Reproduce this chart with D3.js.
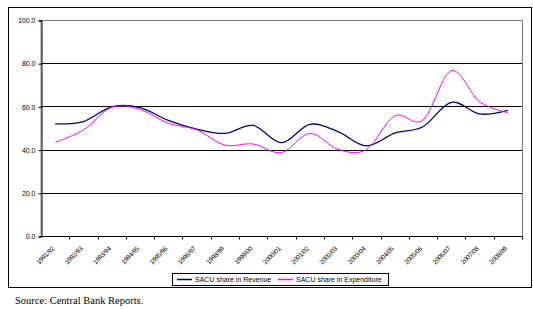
<!DOCTYPE html>
<html>
<head>
  <meta charset="utf-8">
  <title>SACU share</title>
  <style>
    body { margin: 0; background: #fff; }
    text { font-family: "Liberation Sans", Arial, sans-serif; }
  </style>
</head>
<body>
  <div id="viz"></div>
  <script src="https://d3js.org/d3.v7.min.js"></script>
  <script>
    // category labels as printed on the axis
    let years = ['1991/92', '1992/93', '1993/94', '1994/95', '1995/96', '1996/97',
      '1998/99', '1999/00', '2000/01', '2001/02', '2002/03', '2003/04',
      '2004/05', '2005/06', '2006/07', '2007/08', '2008/09'];

    let revenue = [51.9, 53.0, 59.8, 59.4, 53.5, 49.5, 47.5, 51.2, 43.2, 51.7,
      48.3, 41.7, 47.6, 50.6, 61.9, 56.5, 58.2];

    let expenditure = [43.4, 49.1, 59.6, 58.6, 52.2, 49.2, 42.1, 42.6, 38.6, 47.5,
      40.1, 40.0, 55.6, 53.7, 76.5, 62.2, 57.1];

    let yTicks = [0, 20, 40, 60, 80, 100];

    let seriesNames = ['SACU share in Revenue', 'SACU share in Expenditure'];
    let seriesColors = ['#000080', '#ff00ff'];

    let margin = { top: 20, left: 41 },
      width = 481,
      height = 216;

    let root = d3.select('#viz')
      .append('svg')
      .attr('width', 533)
      .attr('height', 309);

    // outer chart border
    root.append('rect')
      .attr('x', 8.5)
      .attr('y', 7.5)
      .attr('width', 523)
      .attr('height', 280)
      .attr('fill', 'none')
      .attr('stroke', '#000')
      .attr('stroke-width', 1);

    let svg = root.append('g')
      .attr('transform', `translate(${margin.left}, ${margin.top})`);

    let x = d3.scaleBand()
      .domain(years)
      .range([0, width])
      .padding(0);

    let y = d3.scaleLinear()
      .domain([0, 100])
      .range([height, 0]);

    // plot area border (grey)
    svg.append('rect')
      .attr('x', 0)
      .attr('y', 0.5)
      .attr('width', width + 0.5)
      .attr('height', height)
      .attr('fill', 'none')
      .attr('stroke', '#808080');

    // gridlines
    svg.append('g')
      .selectAll('line')
      .data(yTicks.filter(d => d > 0 && d < 100))
      .join('line')
      .attr('x1', 0)
      .attr('x2', width)
      .attr('y1', d => Math.round(y(d)) + 0.5)
      .attr('y2', d => Math.round(y(d)) + 0.5)
      .attr('stroke', '#000');

    // y axis
    let yAxis = svg.append('g')
      .attr('transform', 'translate(0.5, 0.5)')
      .call(d3.axisLeft(y).tickValues(yTicks).tickFormat(d3.format('.1f')).tickSize(3).tickPadding(3));
    yAxis.select('.domain').attr('stroke', '#000');
    yAxis.selectAll('text')
      .style('font-size', '7px')
      .attr('fill', '#000');

    // x axis
    let xAxis = svg.append('g')
      .attr('transform', `translate(0, ${height + 0.5})`);
    xAxis.append('line')
      .attr('x1', 0)
      .attr('x2', width)
      .attr('stroke', '#000');
    xAxis.selectAll('.tick-mark')
      .data(years)
      .join('line')
      .attr('class', 'tick-mark')
      .attr('x1', d => Math.round(x(d) + x.bandwidth()) + 0.5)
      .attr('x2', d => Math.round(x(d) + x.bandwidth()) + 0.5)
      .attr('y1', 0)
      .attr('y2', 3)
      .attr('stroke', '#000');
    xAxis.selectAll('.lbl')
      .data(years)
      .join('text')
      .attr('class', 'lbl')
      .attr('transform', d => `translate(${x(d) + x.bandwidth() / 2 - 2}, 11) rotate(-45)`)
      .attr('text-anchor', 'end')
      .attr('dy', '0.35em')
      .style('font-size', '6.5px')
      .style('letter-spacing', '-0.2px')
      .attr('fill', '#000')
      .text(d => d);

    // lines
    let line = d3.line()
      .x((d, i) => x(years[i]) + x.bandwidth() / 2)
      .y(d => y(d))
      .curve(d3.curveCatmullRom.alpha(0));

    [revenue, expenditure].forEach((series, k) => {
      svg.append('path')
        .datum(series)
        .attr('d', line)
        .attr('fill', 'none')
        .attr('stroke', seriesColors[k])
        .attr('stroke-width', k === 0 ? 1.3 : 1);
    });

    // legend
    let legend = root.append('g');
    legend.append('rect')
      .attr('x', 172.5)
      .attr('y', 273.5)
      .attr('width', 216)
      .attr('height', 12)
      .attr('fill', '#fff')
      .attr('stroke', '#000');

    let legendX = [177, 278];
    seriesNames.forEach((name, k) => {
      legend.append('line')
        .attr('x1', legendX[k])
        .attr('x2', legendX[k] + 15)
        .attr('y1', 279.5)
        .attr('y2', 279.5)
        .attr('stroke', seriesColors[k])
        .attr('stroke-width', 1.5);
      legend.append('text')
        .attr('x', legendX[k] + 18)
        .attr('y', 282)
        .style('font-size', '7px')
        .attr('fill', '#000')
        .text(name);
    });

    // source note
    root.append('text')
      .attr('x', 15)
      .attr('y', 304)
      .style('font-family', '"Liberation Serif", "Times New Roman", serif')
      .style('font-size', '10.5px')
      .attr('fill', '#000')
      .text('Source: Central Bank Reports.');
  </script>
</body>
</html>
